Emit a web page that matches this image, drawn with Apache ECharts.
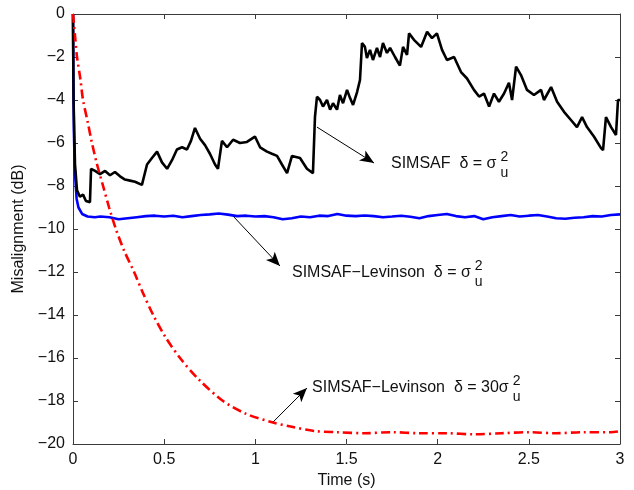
<!DOCTYPE html>
<html><head><meta charset="utf-8">
<script src="https://cdn.jsdelivr.net/npm/echarts@6/dist/echarts.min.js"></script>
<style>html,body{margin:0;padding:0;background:#fff}#c{width:634px;height:490px}</style>
</head><body><div id="c"></div>
<script>
// ---- data ----
const xTicks = [0, 0.5, 1, 1.5, 2, 2.5, 3];
const yTicks = [0, -2, -4, -6, -8, -10, -12, -14, -16, -18, -20];

const simsafTime = [0,0.003,0.011,0.022,0.038,0.055,0.071,0.093,0.099,0.121,0.148,0.176,0.203,0.230,0.258,0.285,0.313,0.340,0.378,0.406,0.433,0.461,0.488,0.516,0.543,0.570,0.598,0.625,0.647,0.669,0.697,0.724,0.751,0.779,0.795,0.817,0.845,0.878,0.916,0.954,0.998,1.026,1.064,1.091,1.119,1.146,1.174,1.201,1.245,1.283,1.316,1.327,1.338,1.355,1.371,1.393,1.410,1.426,1.448,1.464,1.481,1.503,1.519,1.536,1.558,1.574,1.585,1.601,1.612,1.629,1.645,1.667,1.684,1.700,1.722,1.739,1.766,1.793,1.810,1.832,1.843,1.870,1.909,1.942,1.969,1.996,2.024,2.051,2.090,2.128,2.161,2.199,2.227,2.254,2.282,2.309,2.336,2.364,2.391,2.408,2.430,2.457,2.490,2.528,2.567,2.583,2.622,2.655,2.693,2.731,2.764,2.792,2.819,2.857,2.896,2.907,2.923,2.951,2.978,2.989,3.0];
const simsafDb = [0,-4,-7.0,-8.2,-8.5,-8.4,-8.7,-8.75,-7.2,-7.3,-7.45,-7.3,-7.5,-7.35,-7.55,-7.7,-7.75,-7.8,-7.95,-7.0,-6.7,-6.4,-6.9,-7.2,-6.8,-6.3,-6.2,-6.3,-5.9,-5.3,-5.8,-6.1,-6.5,-7.0,-7.2,-5.9,-6.2,-5.85,-6.0,-5.95,-5.7,-6.2,-6.4,-6.5,-6.6,-7.0,-7.4,-6.6,-6.7,-7.2,-7.4,-4.8,-3.85,-4.0,-4.3,-4.0,-4.45,-4.15,-4.45,-3.77,-4.15,-3.53,-3.9,-4.23,-3.63,-3.07,-1.35,-1.53,-2.05,-1.67,-2.14,-1.58,-2.0,-1.35,-1.81,-1.58,-2.0,-2.4,-1.53,-1.9,-0.9,-1.2,-1.53,-0.83,-1.12,-0.9,-1.67,-2.14,-2.0,-2.7,-3.0,-3.53,-3.84,-3.7,-4.3,-3.7,-4.08,-3.7,-3.2,-4.0,-2.45,-2.84,-3.53,-3.77,-3.53,-4.0,-3.4,-4.08,-4.55,-4.93,-5.26,-4.8,-5.26,-5.7,-6.24,-6.33,-4.8,-5.26,-5.63,-4.0,-4.0];

const levinsonTime = [0,0.002,0.005,0.01,0.02,0.03,0.05,0.08,0.12,0.15,0.2,0.25,0.3,0.35,0.4,0.45,0.5,0.55,0.6,0.65,0.7,0.75,0.8,0.85,0.9,0.95,1.0,1.05,1.1,1.15,1.2,1.25,1.3,1.35,1.4,1.45,1.5,1.55,1.6,1.65,1.7,1.75,1.8,1.85,1.9,1.95,2.0,2.05,2.1,2.15,2.2,2.25,2.3,2.35,2.4,2.45,2.5,2.55,2.6,2.65,2.7,2.75,2.8,2.85,2.9,2.95,3.0];
const levinsonDb = [0,-3,-5.5,-7.3,-8.6,-9.0,-9.3,-9.42,-9.45,-9.42,-9.45,-9.55,-9.5,-9.45,-9.4,-9.38,-9.42,-9.38,-9.45,-9.4,-9.35,-9.32,-9.28,-9.33,-9.4,-9.38,-9.42,-9.4,-9.45,-9.55,-9.5,-9.42,-9.45,-9.38,-9.4,-9.3,-9.38,-9.4,-9.37,-9.4,-9.45,-9.42,-9.38,-9.43,-9.5,-9.4,-9.35,-9.3,-9.4,-9.45,-9.4,-9.55,-9.45,-9.4,-9.35,-9.42,-9.38,-9.35,-9.42,-9.5,-9.52,-9.48,-9.45,-9.4,-9.42,-9.35,-9.32];

const levinson30Time = [0,0.011,0.022,0.04,0.055,0.08,0.104,0.132,0.165,0.198,0.235,0.28,0.335,0.385,0.44,0.505,0.587,0.69,0.823,0.95,1.097,1.2,1.327,1.45,1.6,1.75,1.9,2.05,2.2,2.35,2.5,2.65,2.8,2.95,3.0];
const levinson30Db = [0,-1,-2,-3,-4,-5,-6,-7,-8,-9,-10,-11,-12,-13,-14,-15,-16,-17,-18,-18.6,-19.0,-19.2,-19.4,-19.45,-19.5,-19.45,-19.5,-19.5,-19.55,-19.5,-19.45,-19.5,-19.45,-19.45,-19.4];

// annotation anchors (data coordinates)
const arrows = [
  [[1.338, -5.26], [1.651, -6.93]],
  [[0.878, -9.4], [1.135, -11.72]],
  [[1.097, -18.98], [1.283, -17.4]]
];
const labels = [
  {at: [1.744, -6.95], main: 'SIMSAF  δ = σ'},
  {at: [1.201, -12.02], main: 'SIMSAF\u2212Levinson  δ = σ'},
  {at: [1.311, -17.37], main: 'SIMSAF\u2212Levinson  δ = 30σ'}
];

// ---- chart ----
const FONT = '"Liberation Sans", Arial, Helvetica, sans-serif';
const zip = (a, b) => a.map((v, i) => [v, b[i]]);
const minus = v => String(v).replace('-', '\u2212');

const axisCommon = {
  axisLine: {show: true, onZero: false, lineStyle: {color: '#3a3a3a', width: 1}},
  axisTick: {show: true, inside: true, length: 5, lineStyle: {color: '#3a3a3a'}},
  splitLine: {show: false}
};
const chart = echarts.init(document.getElementById('c'), null, {renderer: 'canvas'});
const option = {
  animation: false,
  backgroundColor: '#fff',
  grid: {left: 73, right: 14, top: 14, bottom: 46, containLabel: false, outerBoundsMode: 'none'},
  xAxis: [
    Object.assign({type: 'value', position: 'bottom', min: xTicks[0], max: xTicks[xTicks.length - 1], interval: 0.5,
      name: 'Time (s)', nameLocation: 'middle', nameGap: 23,
      nameTextStyle: {fontFamily: FONT, fontSize: 16, color: '#111'},
      axisLabel: {fontFamily: FONT, fontSize: 16, color: '#111', margin: 8, formatter: v => minus(v)}}, axisCommon),
    Object.assign({type: 'value', position: 'top', min: 0, max: 3, interval: 0.5, axisLabel: {show: false}}, axisCommon)
  ],
  yAxis: [
    Object.assign({type: 'value', position: 'left', min: yTicks[yTicks.length - 1], max: yTicks[0], interval: 2,
      name: 'Misalignment (dB)', nameLocation: 'middle', nameGap: 42,
      nameTextStyle: {fontFamily: FONT, fontSize: 16, color: '#111'},
      axisLabel: {fontFamily: FONT, fontSize: 16, color: '#111', margin: 8, formatter: v => minus(v)}}, axisCommon),
    Object.assign({type: 'value', position: 'right', min: -20, max: 0, interval: 2, axisLabel: {show: false}}, axisCommon)
  ],
  series: [
    {type: 'line', name: 'SIMSAF-Levinson 30', data: zip(levinson30Time, levinson30Db), showSymbol: false, smooth: 0.3,
      lineStyle: {color: '#ff0000', width: 2.6, type: [9, 4, 2, 4]}, z: 3,
      markLine: {silent: true, symbol: ['none', 'arrow'], symbolSize: [9, 14], animation: false,
        label: {show: false}, lineStyle: {color: '#000', width: 1, type: 'solid'},
        data: arrows.map(a => [{coord: a[0]}, {coord: a[1]}])}},
    {type: 'line', name: 'SIMSAF-Levinson', data: zip(levinsonTime, levinsonDb), showSymbol: false,
      lineStyle: {color: '#0000ff', width: 2.6}, z: 2},
    {type: 'line', name: 'SIMSAF', data: zip(simsafTime, simsafDb), showSymbol: false,
      lineStyle: {color: '#000000', width: 2.6}, z: 2}
  ]
};
chart.setOption(option);

// text annotations
const ctx = document.createElement('canvas').getContext('2d');
ctx.font = '16px ' + FONT;
const graphics = [];
labels.forEach(l => {
  const p = chart.convertToPixel({gridIndex: 0}, l.at);
  const w = ctx.measureText(l.main).width;
  graphics.push({type: 'text', x: p[0], y: p[1], silent: true,
    style: {text: l.main, font: '16px ' + FONT, fill: '#111', align: 'left', verticalAlign: 'middle'}});
  graphics.push({type: 'text', x: p[0] + w + 4, y: p[1] - 6, silent: true,
    style: {text: '2', font: '14px ' + FONT, fill: '#111', align: 'left', verticalAlign: 'middle'}});
  graphics.push({type: 'text', x: p[0] + w + 4, y: p[1] + 10, silent: true,
    style: {text: 'u', font: '14px ' + FONT, fill: '#111', align: 'left', verticalAlign: 'middle'}});
});
chart.setOption({graphic: graphics});
</script>
</body></html>
